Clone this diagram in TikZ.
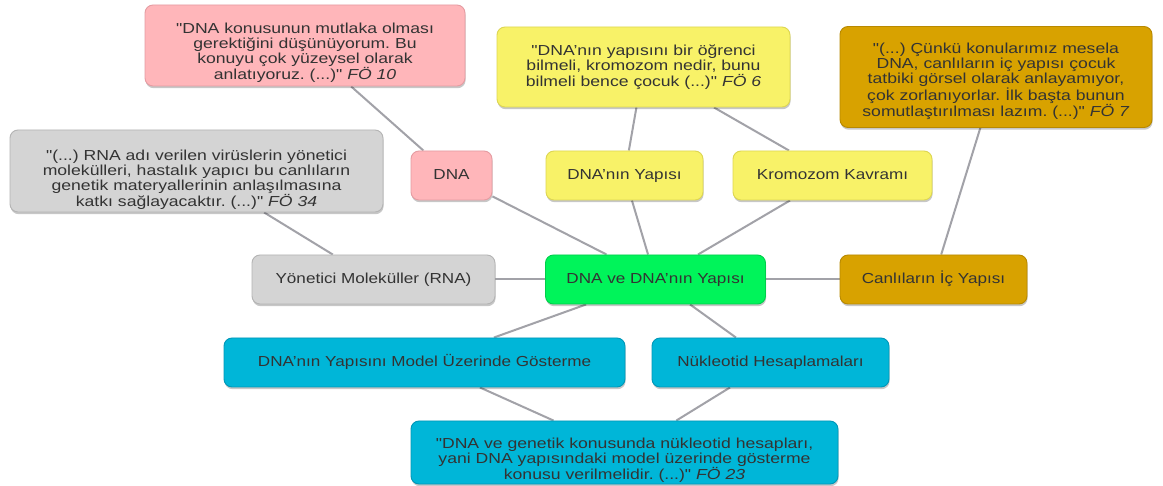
\documentclass[tikz,border=0pt]{standalone}
\usepackage{fontspec}
% plain straight quotes in the quotations, so no TeX ligature mapping
\defaultfontfeatures[\rmfamily]{}
\setmainfont{Liberation Sans}[FakeStretch=1.18]
\newfontfamily\quotefont{Liberation Sans}[FakeStretch=1.215]
\usetikzlibrary{shadows,backgrounds}
\frenchspacing

\definecolor{textc}{HTML}{333333}
\definecolor{edgec}{HTML}{A2A2A8}
\definecolor{pinkf}{HTML}{FFB6BA}\definecolor{pinkd}{HTML}{E59CA2}
\definecolor{yelf}{HTML}{F8F268}\definecolor{yeld}{HTML}{DDD652}
\definecolor{goldf}{HTML}{D8A200}\definecolor{goldd}{HTML}{B88900}
\definecolor{grayf}{HTML}{D4D4D4}\definecolor{grayd}{HTML}{B4B4B4}
\definecolor{greenf}{HTML}{00F45A}\definecolor{greend}{HTML}{00CF4C}
\definecolor{cyanf}{HTML}{00B6D8}\definecolor{cyand}{HTML}{0097B8}

\tikzset{
  box/.style={draw, rounded corners=8pt, line width=0.9pt, align=center,
    text=textc, inner sep=0pt, font=\fontsize{14.5}{14.2}\selectfont,
    drop shadow={shadow xshift=0.6pt, shadow yshift=-2.2pt, opacity=0.22, fill=black}},
  sz/.style 2 args={minimum width=#1pt, minimum height=#2pt},
  oneline/.style={text height=10.5pt, text depth=3pt},
  % quotation text block, lowered inside its box by the given text height
  quote/.style={text height=#1pt, text depth=15pt,
    font=\quotefont\fontsize{14.5}{14.2}\selectfont},
  pinkbox/.style={box, fill=pinkf, draw=pinkd},
  yelbox/.style={box, fill=yelf, draw=yeld},
  goldbox/.style={box, fill=goldf, draw=goldd},
  graybox/.style={box, fill=grayf, draw=grayd},
  greenbox/.style={box, fill=greenf, draw=greend},
  cyanbox/.style={box, fill=cyanf, draw=cyand},
  link/.style={draw=edgec, line width=2pt},
}
\newcommand{\src}[1]{\textit{#1}}
\newenvironment{lines}{\begin{tabular}{@{}c@{}}}{\end{tabular}}

\begin{document}
\begin{tikzpicture}[x=1pt, y=-1pt]
\useasboundingbox (0,0) rectangle (1163,486);

% central topic
\node[greenbox, oneline, sz={220}{49}] (root) at (655.5,279.5) {DNA ve DNA’nın Yapısı};

% sub-topics
\node[pinkbox, oneline, sz={81}{49}]   (dna)   at (451.5,175.5) {DNA};
\node[yelbox,  oneline, sz={157}{49}]  (yap)   at (624.5,175.5) {DNA’nın Yapısı};
\node[yelbox,  oneline, sz={199}{49}]  (krom)  at (832.5,175.5) {Kromozom Kavramı};
\node[graybox, oneline, sz={243}{49}]  (rna)   at (373.5,279.5) {Yönetici Moleküller (RNA)};
\node[goldbox, oneline, sz={187}{49}]  (canli) at (933.5,279.5) {Canlıların İç Yapısı};
\node[cyanbox, oneline, sz={401}{49}]  (model) at (424.5,362.5) {DNA’nın Yapısını Model Üzerinde Gösterme};
\node[cyanbox, oneline, sz={237}{49}]  (nuk)   at (770.5,362.5) {Nükleotid Hesaplamaları};

% quotations
\node[pinkbox, quote=38.2, sz={320}{81}] (qdna) at (305,45.5)
  {\begin{lines}"DNA konusunun mutlaka olması\\ gerektiğini düşünüyorum. Bu\\ konuyu çok yüzeysel olarak\\ anlatıyoruz. (...)" \src{FÖ 10}\end{lines}};
\node[yelbox, quote=24.2, sz={293}{80}] (qyap) at (643.5,67)
  {\begin{lines}"DNA’nın yapısını bir öğrenci\\ bilmeli, kromozom nedir, bunu\\ bilmeli bence çocuk (...)" \src{FÖ 6}\end{lines}};
\node[goldbox, quote=32.2, sz={312}{101}] (qcanli) at (996,77)
  {\begin{lines}"(...) Çünkü konularımız mesela\\ DNA, canlıların iç yapısı çocuk\\ tatbiki görsel olarak anlayamıyor,\\ çok zorlanıyorlar. İlk başta bunun\\ somutlaştırılması lazım. (...)" \src{FÖ 7}\end{lines}};
\node[graybox, quote=41.2, sz={373}{82}] (qrna) at (196.5,171)
  {\begin{lines}"(...) RNA adı verilen virüslerin yönetici\\ molekülleri, hastalık yapıcı bu canlıların\\ genetik materyallerinin anlaşılmasına\\ katkı sağlayacaktır. (...)" \src{FÖ 34}\end{lines}};
\node[cyanbox, quote=39.2, sz={427}{63}] (qnuk) at (624.5,452.5)
  {\begin{lines}"DNA ve genetik konusunda nükleotid hesapları,\\ yani DNA yapısındaki model üzerinde gösterme\\ konusu verilmelidir. (...)" \src{FÖ 23}\end{lines}};

% connectors, drawn behind the boxes
\begin{scope}[on background layer]
  \fill[white] (0,0) rectangle (1163,486);
  \draw[link] (root) -- (dna);
  \draw[link] (root) -- (yap);
  \draw[link] (root) -- (krom);
  \draw[link] (root) -- (rna);
  \draw[link] (root) -- (canli);
  \draw[link] (root) -- (model);
  \draw[link] (root) -- (nuk);
  \draw[link] (dna) -- (qdna);
  \draw[link] (yap) -- (qyap);
  \draw[link] (krom) -- (qyap);
  \draw[link] (canli) -- (qcanli);
  \draw[link] (rna) -- (qrna);
  \draw[link] (model) -- (qnuk);
  \draw[link] (nuk) -- (qnuk);
\end{scope}
\end{tikzpicture}
\end{document}
